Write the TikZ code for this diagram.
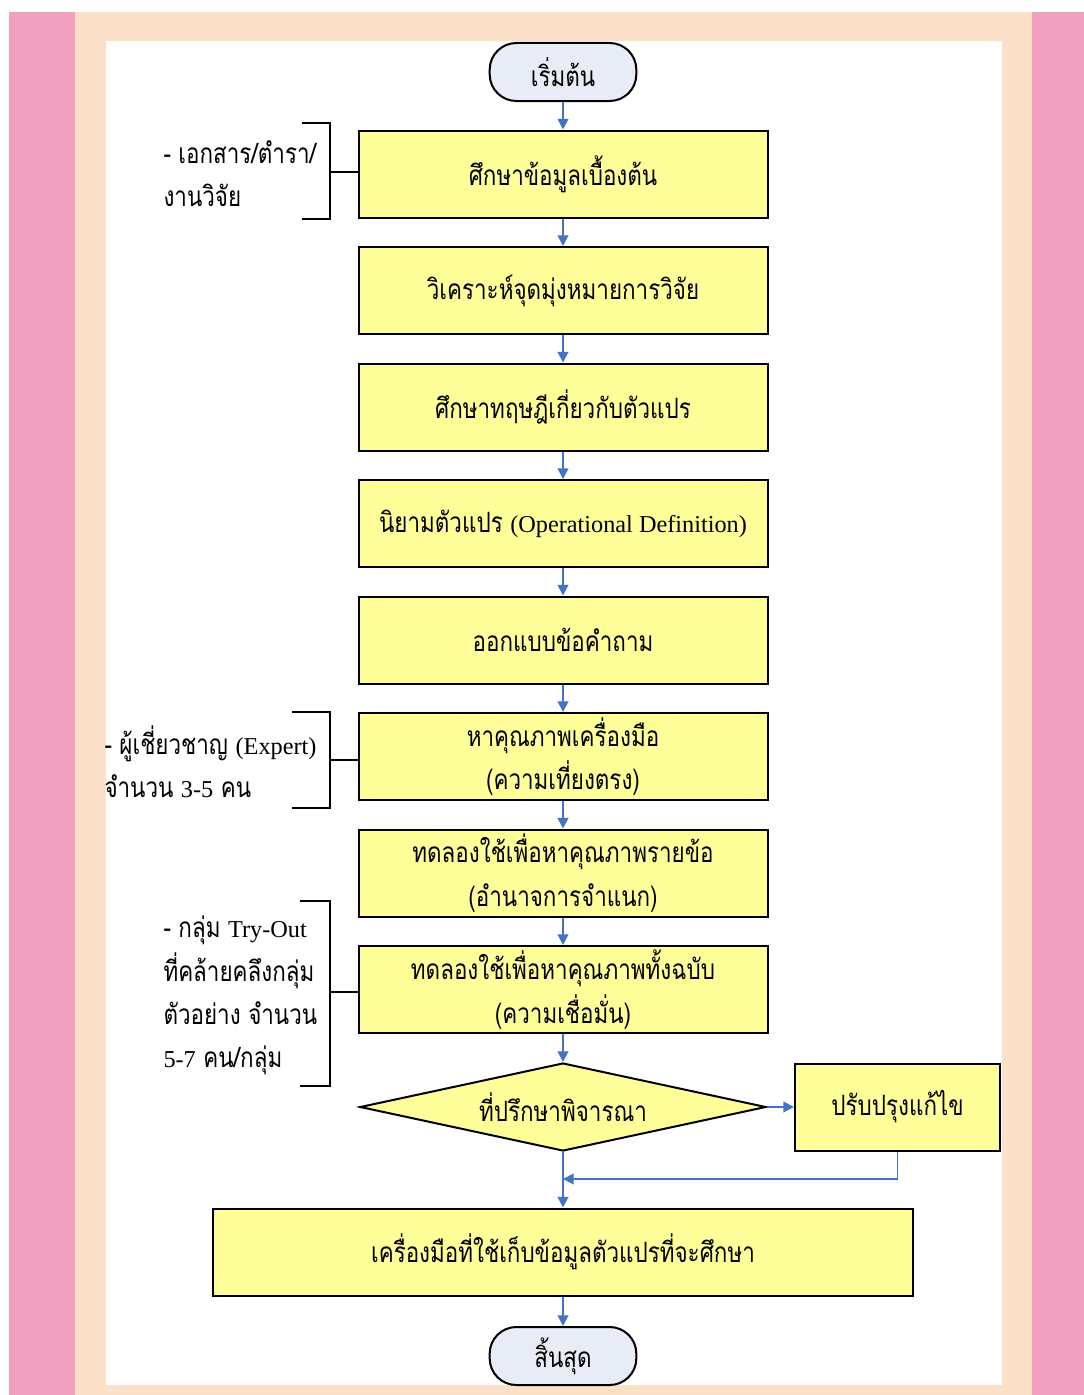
\documentclass[tikz,border=0pt]{standalone}
\usepackage{fontspec}
\setmainfont{Liberation Serif}
\newfontfamily\thaifont[Script=Thai,FakeStretch=0.8]{Loma}
\newcommand{\engtext}[1]{{\rmfamily\fontsize{18.2}{32.5}\selectfont #1}}
\usetikzlibrary{shapes.geometric,arrows.meta}

\definecolor{pinkband}{RGB}{241,161,189}
\definecolor{peachband}{RGB}{253,224,200}
\definecolor{boxyellow}{RGB}{255,255,153}
\definecolor{termfill}{RGB}{232,236,246}
\definecolor{flowblue}{RGB}{68,114,196}

\tikzset{every picture/.style={line width=0.75pt},
	thaitext/.style={font=\thaifont\fontsize{21}{32.5}\selectfont},
	procbox/.style={thaitext,draw=black,line width=1.5pt,fill=boxyellow,align=center,minimum width=306.75pt,minimum height=65.25pt,inner sep=2pt},
	decision/.style={thaitext,diamond,draw=black,line width=1.5pt,fill=boxyellow,aspect=4.6,minimum width=304.5pt,minimum height=66pt,inner sep=0pt},
	termnode/.style={thaitext,draw=black,line width=1.5pt,fill=termfill,rounded corners=20pt,minimum width=110pt,minimum height=43.5pt},
	note/.style={thaitext,align=left,anchor=west,inner sep=0pt},
	flow/.style={draw=flowblue,line width=1.4pt,-{Triangle[length=8pt,width=8pt]}},
	bracket/.style={draw=black,line width=1.5pt}}

\begin{document}
\begin{tikzpicture}[x=0.75pt,y=0.75pt,yscale=-1,xscale=1]
	\useasboundingbox (0,0) rectangle (1084,1395);
	
	%Shape: page bands
	\fill[pinkband] (9,12) rectangle (1084,1395);
	\fill[peachband] (75,12) rectangle (1032,1395);
	\fill[white] (106,41) rectangle (1002,1385);
	
	%Terminal
	\node[termnode] (start) at (563,72) {เริ่มต้น};
	
	%Process boxes
	\node[procbox] (study) at (563,174) {ศึกษาข้อมูลเบื้องต้น};
	\node[procbox] (aim) at (563,290.5) {วิเคราะห์จุดมุ่งหมายการวิจัย};
	\node[procbox] (theory) at (563,407) {ศึกษาทฤษฎีเกี่ยวกับตัวแปร};
	\node[procbox] (define) at (563,523.5) {นิยามตัวแปร \engtext{(Operational Definition)}};
	\node[procbox] (design) at (563,640) {ออกแบบข้อคำถาม};
	\node[procbox] (validity) at (563,756.5) {หาคุณภาพเครื่องมือ\\(ความเที่ยงตรง)};
	\node[procbox] (itemtry) at (563,873) {ทดลองใช้เพื่อหาคุณภาพรายข้อ\\(อำนาจการจำแนก)};
	\node[procbox] (wholetry) at (563,989.5) {ทดลองใช้เพื่อหาคุณภาพทั้งฉบับ\\(ความเชื่อมั่น)};
	
	%Decision and revision
	\node[decision] (advisor) at (563,1107) {ที่ปรึกษาพิจารณา};
	\node[procbox,minimum width=153.75pt] (revise) at (897.5,1107) {ปรับปรุงแก้ไข};
	\coordinate (merge) at (563,1179);
	
	%Result and end
	\node[procbox,minimum width=525pt] (tool) at (563,1252) {เครื่องมือที่ใช้เก็บข้อมูลตัวแปรที่จะศึกษา};
	\node[termnode] (finish) at (563,1356) {สิ้นสุด};
	
	%Flow arrows
	\draw[flow] (start) -- (study);
	\draw[flow] (study) -- (aim);
	\draw[flow] (aim) -- (theory);
	\draw[flow] (theory) -- (define);
	\draw[flow] (define) -- (design);
	\draw[flow] (design) -- (validity);
	\draw[flow] (validity) -- (itemtry);
	\draw[flow] (itemtry) -- (wholetry);
	\draw[flow] (wholetry) -- (advisor);
	\draw[flow] (advisor) -- (revise);
	\draw[flow] (revise.south) |- (merge);
	\draw[flow] (advisor.south) -- (tool.north);
	\draw[flow] (tool) -- (finish);
	
	%Brackets with notes
	\draw[bracket] (302,123) -- (330,123) -- (330,219) -- (302,219);
	\coordinate (brace1) at (330,172);
	\draw[bracket] (brace1) -- (brace1 -| study.west);
	\node[note] (docnote) at (163,173.5) {- เอกสาร/ตำรา/\\งานวิจัย};
	
	\draw[bracket] (292,712) -- (330,712) -- (330,808) -- (292,808);
	\coordinate (brace2) at (330,760);
	\draw[bracket] (brace2) -- (brace2 -| validity.west);
	\node[note] (expertnote) at (104,762) {- ผู้เชี่ยวชาญ \engtext{(Expert)}\\จำนวน \engtext{3-5} คน};
	
	\draw[bracket] (300,901) -- (330,901) -- (330,1086) -- (300,1086);
	\coordinate (brace3) at (330,992);
	\draw[bracket] (brace3) -- (brace3 -| wholetry.west);
	\node[note] (trynote) at (163,995.5) {- กลุ่ม \engtext{Try-Out}\\ที่คล้ายคลึงกลุ่ม\\ตัวอย่าง จำนวน\\\engtext{5-7} คน/กลุ่ม};
	
\end{tikzpicture}
\end{document}
